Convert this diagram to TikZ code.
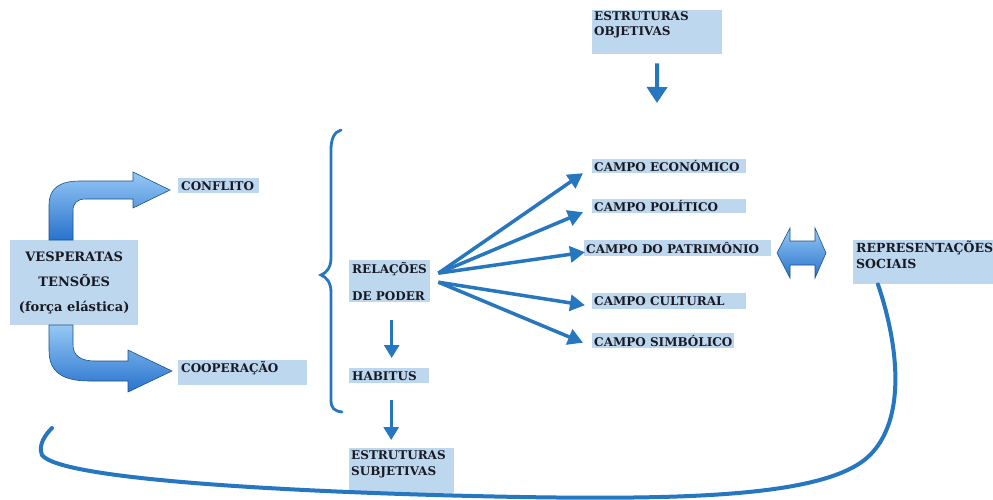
\documentclass[tikz,border=0pt]{standalone}
\usepackage{fontspec}
\setmainfont{DejaVu Serif}
\usetikzlibrary{arrows.meta}
\definecolor{boxblue}{RGB}{189,215,238}
\definecolor{arrowblue}{RGB}{38,118,192}
\definecolor{txtc}{RGB}{25,25,35}
\definecolor{shadelight}{RGB}{150,200,245}
\definecolor{shadedark}{RGB}{40,115,205}
\newcommand\tbx[7]{\node[boxst,anchor=north west] (#1) at (#2,#3) {\parbox[b][#5pt][#6]{#4pt}{#7}};}
\begin{document}
\begin{tikzpicture}[x=1pt,y=-1pt,
  boxst/.style={fill=boxblue, inner sep=0pt, text=txtc, font=\fontsize{12}{15}\selectfont\bfseries},
  arr/.style={draw=arrowblue, line width=3.5pt, -{Triangle[length=15pt,width=16pt]}},
  darr/.style={draw=arrowblue, line width=3pt, -{Triangle[length=13pt,width=15pt]}},
  bigarr/.style={draw=arrowblue, line width=4pt, -{Triangle[length=16pt,width=20pt]}},
  blockarr/.style={top color=shadelight, bottom color=shadedark, draw=arrowblue!70!black, line width=0.6pt},
  loopline/.style={draw=arrowblue, line width=4pt, line cap=round},
  bracest/.style={draw=arrowblue, line width=2.8pt, line cap=round}]
\fill[white] (0,0) rectangle (993,500);
\useasboundingbox (0,0) rectangle (993,500);

% boxes
\tbx{ves}{10}{240}{128}{85}{c}{\centering\fontsize{13}{25}\selectfont VESPERATAS\par TENSÕES\par (força elástica)\par}
\tbx{conf}{178}{178}{81}{15}{c}{\raggedright\leftskip=3pt CONFLITO}
\tbx{coop}{178}{360}{129}{25}{t}{\raggedright\leftskip=3pt\vspace*{1pt}COOPERAÇÃO}
\tbx{rel}{349}{260}{81}{42}{c}{\raggedright\leftskip=3pt\baselineskip=27pt RELAÇÕES\par DE PODER\par}
\tbx{hab}{349}{368}{80}{15}{c}{\raggedright\leftskip=3pt HABITUS}
\tbx{estsub}{349}{448}{105}{45}{t}{\raggedright\leftskip=2pt\baselineskip=16pt\vspace*{2pt}ESTRUTURAS\par SUBJETIVAS\par}
\tbx{estobj}{592}{10}{130}{44}{t}{\raggedright\leftskip=2pt\baselineskip=15pt\vspace*{1pt}ESTRUTURAS\par OBJETIVAS\par}
\tbx{eco}{592}{159}{154}{14}{c}{\raggedright\leftskip=2pt CAMPO ECONÓMICO}
\tbx{pol}{592}{199}{154}{14}{c}{\raggedright\leftskip=2pt CAMPO POLÍTICO}
\tbx{pat}{584}{240}{187}{16}{c}{\raggedright\leftskip=2pt CAMPO DO PATRIMÔNIO}
\tbx{cul}{592}{293}{154}{16}{c}{\raggedright\leftskip=2pt CAMPO CULTURAL}
\tbx{sim}{592}{333}{142}{15}{c}{\raggedright\leftskip=2pt CAMPO SIMBÓLICO}
\tbx{rep}{853}{240}{140}{44}{t}{\raggedright\leftskip=3pt\fontsize{12.5}{16}\selectfont\vspace*{1pt}REPRESENTAÇÕES\par SOCIAIS\par}

% curved block arrows from VESPERATAS
\path[blockarr] (49,240) -- (49,205) .. controls (49,188) and (60,181) .. (80,181) -- (133,181) -- (133,172) -- (170,190) -- (133,208) -- (133,199) -- (86,199) .. controls (77,199) and (73,203) .. (73,211) -- (73,240) -- cycle;
\path[blockarr] (49,325) -- (49,350) .. controls (49,372) and (62,381) .. (90,381) -- (128,381) -- (128,392) -- (172,371) -- (128,350) -- (128,361) -- (95,361) .. controls (80,361) and (73,355) .. (73,345) -- (73,325) -- cycle;

% brace
\draw[bracest] (341,130) .. controls (334,132) and (331,139) .. (331,150) -- (331,258) .. controls (331,268) and (326,273) .. (321,275) .. controls (326,277) and (331,282) .. (331,292) -- (331,400) .. controls (331,408) and (334,411) .. (342,412);

% vertical arrows
\draw[darr, shorten <=18pt, shorten >=10pt] ([xshift=2pt]rel.south) -- ([xshift=2pt]rel.south |- hab.north);
\draw[darr, shorten <=17pt, shorten >=8pt] ([xshift=2pt]hab.south) -- ([xshift=2pt]hab.south |- estsub.north);
\coordinate (objtip) at (657,103);
\draw[bigarr, shorten <=9pt] (estobj.south) -- (objtip);

% fan of arrows
\draw[arr] ([xshift=8pt,yshift=8pt]rel.east) -- ([xshift=-9pt,yshift=-7pt]eco.west);
\draw[arr] ([xshift=8pt,yshift=8pt]rel.east) -- ([xshift=-9pt,yshift=-6pt]pol.west);
\draw[arr] ([xshift=8pt,yshift=8pt]rel.east) -- ([xshift=1pt,yshift=-4pt]pat.west);
\draw[arr] ([xshift=8pt,yshift=-1pt]rel.east) -- ([xshift=-7pt,yshift=-4pt]cul.west);
\draw[arr] ([xshift=8pt,yshift=-1pt]rel.east) -- ([xshift=-9pt,yshift=-2pt]sim.west);

% double block arrow between patrimonio and representacoes
\path[blockarr] (777,253) -- (790,228) -- (790,241) -- (815,241) -- (815,228) -- (826,253) -- (815,278) -- (815,265) -- (790,265) -- (790,278) -- cycle;

% big loop line
\coordinate (loopend) at (52,428);
\draw[loopline] ([xshift=25pt]rep.south west) .. controls (900,350) and (905,420) .. (870,455) .. controls (830,495) and (700,500) .. (520,497) .. controls (300,493) and (60,480) .. (42,455) .. controls (38,445) and (45,435) .. (loopend);
\end{tikzpicture}
\end{document}
